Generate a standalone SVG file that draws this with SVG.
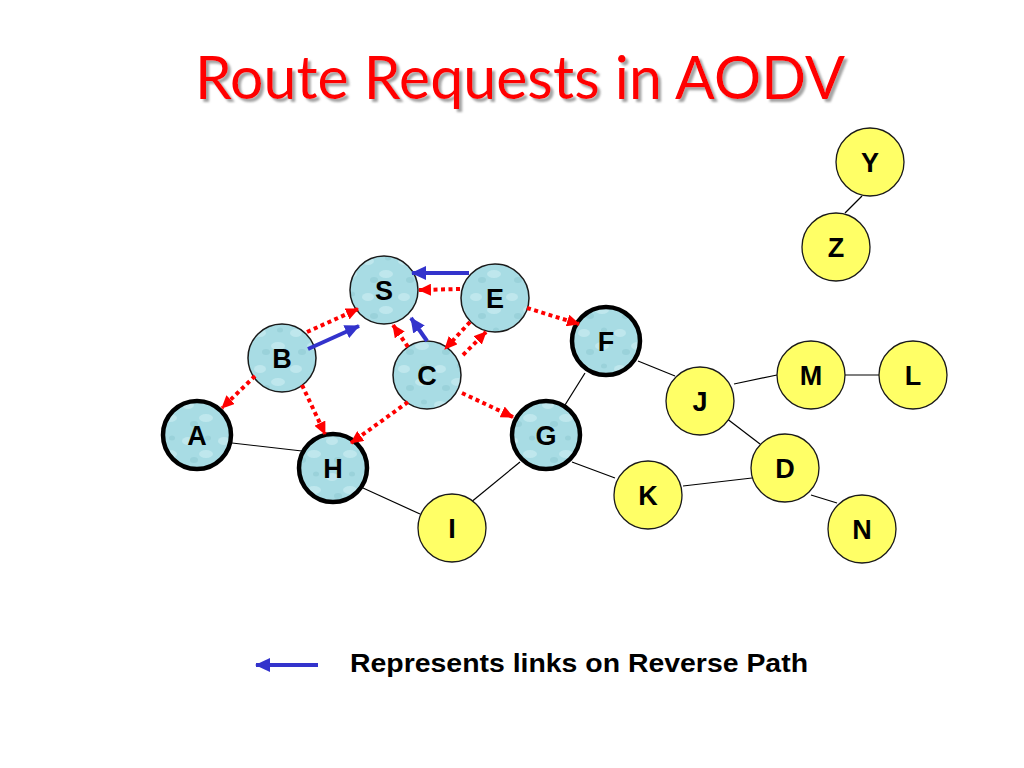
<svg xmlns="http://www.w3.org/2000/svg" width="1024" height="768" viewBox="0 0 1024 768">
<style>
.blue{fill:url(#water);stroke:#1a1a1a;stroke-width:1.5}
.blueT{fill:url(#water);stroke:#000;stroke-width:4.5}
.yel{fill:#ffff66;stroke:#1a1a1a;stroke-width:1.3}
.lbl{font-family:"Liberation Sans",Arial,sans-serif;font-weight:bold;font-size:27px;fill:#000;text-anchor:middle}
.link{stroke:#000;stroke-width:1.2;fill:none}
.req{stroke:#ff0000;stroke-width:4;stroke-dasharray:4 3.5;fill:none;marker-end:url(#ra)}
.rev{stroke:#3333cc;stroke-width:4;fill:none;marker-end:url(#ba)}
</style>
<defs>
<filter id="shadow" x="-5%" y="-20%" width="110%" height="140%">
<feDropShadow dx="3" dy="3" stdDeviation="1" flood-color="#9a9a9a" flood-opacity="0.9"/>
</filter>
<pattern id="water" patternUnits="userSpaceOnUse" width="36" height="36">
<rect width="36" height="36" fill="#a8dce4"/>
<ellipse cx="8" cy="9" rx="6" ry="4" fill="#c4eaef" opacity="0.8"/>
<ellipse cx="26" cy="22" rx="7" ry="4" fill="#c4eaef" opacity="0.8"/>
<ellipse cx="14" cy="28" rx="4" ry="3" fill="#94cdd6" opacity="0.7"/>
<ellipse cx="28" cy="6" rx="3" ry="2.5" fill="#94cdd6" opacity="0.7"/>
</pattern>
<marker id="ra" markerUnits="userSpaceOnUse" markerWidth="14" markerHeight="12" refX="12" refY="6" orient="auto">
<path d="M0,0 L13,6 L0,12 Z" fill="#ff0000"/>
</marker>
<marker id="ba" markerUnits="userSpaceOnUse" markerWidth="16" markerHeight="14" refX="14" refY="7" orient="auto">
<path d="M0,0 L15,7 L0,14 Z" fill="#3333cc"/>
</marker>
</defs>
<rect width="1024" height="768" fill="#ffffff"/>
<g id="title">
<text x="195" y="99" fill="#ff0000" font-family="Lato,'Open Sans',sans-serif" font-size="60" font-weight="normal" textLength="650" lengthAdjust="spacingAndGlyphs" filter="url(#shadow)">Route Requests in AODV</text>
</g>
<g id="links">
<line class="link" x1="232" y1="443" x2="302" y2="451"/>
<line class="link" x1="363" y1="488" x2="420" y2="514"/>
<line class="link" x1="520" y1="462" x2="470" y2="503"/>
<line class="link" x1="572" y1="462" x2="615" y2="478"/>
<line class="link" x1="585" y1="373" x2="565" y2="405"/>
<line class="link" x1="638" y1="361" x2="675" y2="376"/>
<line class="link" x1="734" y1="384" x2="777" y2="375"/>
<line class="link" x1="845" y1="375" x2="879" y2="375"/>
<line class="link" x1="726" y1="418" x2="760" y2="444"/>
<line class="link" x1="683" y1="486" x2="752" y2="478"/>
<line class="link" x1="811" y1="495" x2="837" y2="503"/>
<line class="link" x1="862" y1="196" x2="845" y2="213"/>
</g>
<g id="nodes">
<g id="node-S"><circle class="blue" cx="384" cy="290" r="34"/><text class="lbl" x="384" y="300">S</text></g>
<g id="node-E"><circle class="blue" cx="495" cy="298" r="34"/><text class="lbl" x="495" y="308">E</text></g>
<g id="node-B"><circle class="blue" cx="282" cy="358" r="34"/><text class="lbl" x="282" y="368">B</text></g>
<g id="node-C"><circle class="blue" cx="427" cy="375" r="34"/><text class="lbl" x="427" y="385">C</text></g>
<g id="node-A"><circle class="blueT" cx="197" cy="435" r="34"/><text class="lbl" x="197" y="445">A</text></g>
<g id="node-H"><circle class="blueT" cx="333" cy="468" r="34"/><text class="lbl" x="333" y="478">H</text></g>
<g id="node-G"><circle class="blueT" cx="546" cy="435" r="34"/><text class="lbl" x="546" y="445">G</text></g>
<g id="node-F"><circle class="blueT" cx="606" cy="341" r="34"/><text class="lbl" x="606" y="351">F</text></g>
<g id="node-I"><circle class="yel" cx="452" cy="528" r="34"/><text class="lbl" x="452" y="538">I</text></g>
<g id="node-K"><circle class="yel" cx="648" cy="495" r="34"/><text class="lbl" x="648" y="505">K</text></g>
<g id="node-J"><circle class="yel" cx="700" cy="401" r="34"/><text class="lbl" x="700" y="411">J</text></g>
<g id="node-M"><circle class="yel" cx="811" cy="375" r="34"/><text class="lbl" x="811" y="385">M</text></g>
<g id="node-L"><circle class="yel" cx="913" cy="375" r="34"/><text class="lbl" x="913" y="385">L</text></g>
<g id="node-D"><circle class="yel" cx="785" cy="468" r="34"/><text class="lbl" x="785" y="478">D</text></g>
<g id="node-N"><circle class="yel" cx="862" cy="529" r="34"/><text class="lbl" x="862" y="539">N</text></g>
<g id="node-Y"><circle class="yel" cx="870" cy="162" r="34"/><text class="lbl" x="870" y="172">Y</text></g>
<g id="node-Z"><circle class="yel" cx="836" cy="247" r="34"/><text class="lbl" x="836" y="257">Z</text></g>
</g>
<g id="connectors">
<line class="req" x1="307" y1="332" x2="358" y2="309"/>
<line class="req" x1="460" y1="289" x2="419" y2="290"/>
<line class="req" x1="408" y1="347" x2="393" y2="325"/>
<line class="req" x1="463" y1="355" x2="486" y2="332"/>
<line class="req" x1="470" y1="322" x2="445" y2="349"/>
<line class="req" x1="255" y1="376" x2="222" y2="408"/>
<line class="req" x1="302" y1="385" x2="325" y2="434"/>
<line class="req" x1="408" y1="402" x2="351" y2="443"/>
<line class="req" x1="462" y1="393" x2="513" y2="417"/>
<line class="req" x1="527" y1="308" x2="579" y2="324"/>
<line class="rev" x1="469" y1="273" x2="412" y2="273"/>
<line class="rev" x1="308" y1="349" x2="359" y2="326"/>
<line class="rev" x1="427" y1="341" x2="411" y2="318"/>
</g>
<g id="legend">
<line class="rev" x1="318" y1="665" x2="256" y2="665"/>
<text x="350" y="672" font-family="'Liberation Sans',Arial,sans-serif" font-weight="bold" font-size="25" fill="#000" textLength="458" lengthAdjust="spacingAndGlyphs">Represents links on Reverse Path</text>
</g>
</svg>
